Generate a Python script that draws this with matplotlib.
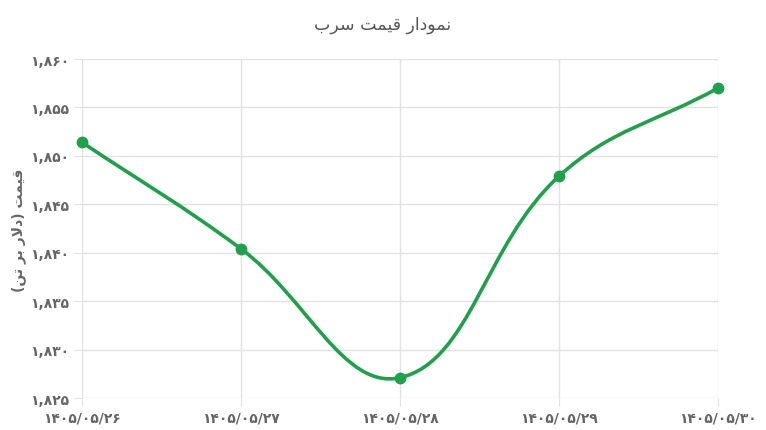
import matplotlib
matplotlib.use('Agg')
import matplotlib.pyplot as plt
from matplotlib.path import Path
from matplotlib.patches import PathPatch
from matplotlib.ticker import FuncFormatter
import numpy as np

# data
dates = ['1405/05/26', '1405/05/27', '1405/05/28', '1405/05/29', '1405/05/30']
prices = [1851.4, 1840.4, 1827.1, 1847.9, 1857.0]
title_fa = 'نمودار قیمت سرب'
ylabel_fa = 'قیمت (دلار بر تن)'

LINE = '#20a04a'
TEXT = '#666666'
GRID = '#e2e2e2'

FA_DIGITS = str.maketrans('0123456789', '۰۱۲۳۴۵۶۷۸۹')

# presentation forms: isolated, final, initial, medial
FORMS = {
    'ا': ('\uFE8D', '\uFE8E', None, None),
    'ب': ('\uFE8F', '\uFE90', '\uFE91', '\uFE92'),
    'ت': ('\uFE95', '\uFE96', '\uFE97', '\uFE98'),
    'د': ('\uFEA9', '\uFEAA', None, None),
    'ر': ('\uFEAD', '\uFEAE', None, None),
    'س': ('\uFEB1', '\uFEB2', '\uFEB3', '\uFEB4'),
    'ق': ('\uFED5', '\uFED6', '\uFED7', '\uFED8'),
    'ل': ('\uFEDD', '\uFEDE', '\uFEDF', '\uFEE0'),
    'م': ('\uFEE1', '\uFEE2', '\uFEE3', '\uFEE4'),
    'ن': ('\uFEE5', '\uFEE6', '\uFEE7', '\uFEE8'),
    'و': ('\uFEED', '\uFEEE', None, None),
    'ی': ('\uFBFC', '\uFBFD', '\uFEF3', '\uFEF4'),
}


def shape_fa(text):
    """Crude Persian shaping + RTL reorder, since matplotlib has no bidi"""
    chars = list(text)
    out = []
    for i, c in enumerate(chars):
        if c not in FORMS:
            out.append(c)
            continue
        prev = chars[i - 1] if i > 0 else None
        nxt = chars[i + 1] if i + 1 < len(chars) else None
        join_prev = prev in FORMS and FORMS[prev][2] is not None
        join_next = nxt in FORMS and FORMS[c][2] is not None
        if c == 'ا' and prev == 'ل':
            # ligature already emitted for lam
            continue
        if c == 'ل' and nxt == 'ا':
            out.append('\uFEFC' if join_prev else '\uFEFB')
            continue
        iso, fin, ini, med = FORMS[c]
        if join_prev and join_next:
            out.append(med)
        elif join_prev:
            out.append(fin)
        elif join_next:
            out.append(ini)
        else:
            out.append(iso)
    vis = ''.join(reversed(out))
    return vis.translate(str.maketrans('()', ')('))


plt.rcParams['font.family'] = ['DejaVu Sans']

fig = plt.figure(figsize=(7.66, 4.31), dpi=100)
ax = fig.add_axes([82 / 766, 1 - 399 / 431, (718 - 82) / 766, (399 - 60) / 431])

x = np.arange(len(dates))
ax.set_xlim(0, len(dates) - 1)
ax.set_ylim(1825, 1860)
ax.set_yticks(np.arange(1825, 1861, 5))
ax.set_xticks(x)
ax.set_xticklabels([d.translate(FA_DIGITS) for d in dates])
ax.yaxis.set_major_formatter(FuncFormatter(lambda v, p: f'{int(v):,}'.translate(FA_DIGITS)))

for s in ax.spines.values():
    s.set_visible(False)
ax.grid(True, color=GRID, linewidth=1)
ax.set_axisbelow(True)
ax.tick_params(length=6, color=GRID, labelcolor=TEXT, labelsize=10, pad=3)
for lbl in ax.get_xticklabels() + ax.get_yticklabels():
    lbl.set_fontweight('bold')

# Chart.js-style spline (tension 0.4), computed in pixel space
tension = 0.4
pts = ax.transData.transform(np.column_stack([x, prices]))
n = len(pts)
cp_prev = np.zeros_like(pts)
cp_next = np.zeros_like(pts)
for i in range(n):
    prev = pts[i - 1] if i > 0 else pts[i]
    cur = pts[i]
    nxt = pts[i + 1] if i < n - 1 else pts[i]
    d01 = np.hypot(*(cur - prev))
    d12 = np.hypot(*(nxt - cur))
    tot = d01 + d12
    s01 = d01 / tot if tot else 0
    s12 = d12 / tot if tot else 0
    cp_prev[i] = cur - tension * s01 * (nxt - prev)
    cp_next[i] = cur + tension * s12 * (nxt - prev)

inv = ax.transData.inverted()
verts = [tuple(inv.transform(pts[0]))]
codes = [Path.MOVETO]
for i in range(n - 1):
    verts += [tuple(inv.transform(cp_next[i])), tuple(inv.transform(cp_prev[i + 1])),
              tuple(inv.transform(pts[i + 1]))]
    codes += [Path.CURVE4] * 3
ax.add_patch(PathPatch(Path(verts, codes), facecolor='none', edgecolor=LINE,
                       linewidth=2.6, clip_on=False, zorder=3, capstyle='round'))
ax.plot(x, prices, 'o', color=LINE, markersize=7.5, clip_on=False, zorder=4)

fig.text(0.5, 1 - 25 / 431, shape_fa(title_fa), ha='center', va='center',
         fontsize=12.5, color='#555555')
fig.text(19 / 766, 1 - 230 / 431, shape_fa(ylabel_fa), ha='center', va='center',
         rotation=90, fontsize=10, fontweight='bold', color=TEXT)

fig.savefig('out.png', dpi=100)
